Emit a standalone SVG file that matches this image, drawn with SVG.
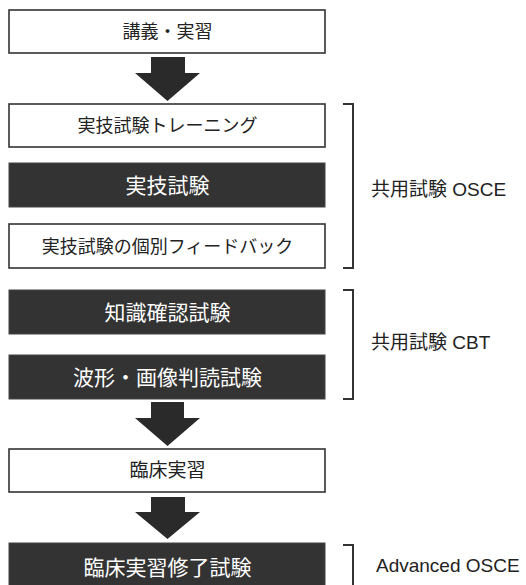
<svg xmlns="http://www.w3.org/2000/svg" width="526" height="585" viewBox="0 0 526 585">
<defs>
<style>
.wbox{fill:#ffffff;stroke:#333333;stroke-width:1.6}
.dbox{fill:#333333;stroke:#444444;stroke-width:1}
.t{font-family:"Liberation Sans","Noto Sans CJK JP",sans-serif;text-anchor:middle}
.tw{fill:#222222;font-size:18px}
.td{fill:#ffffff;font-size:21px}
.lab{font-family:"Liberation Sans","Noto Sans CJK JP",sans-serif;font-size:19px;fill:#222222}
.br{fill:none;stroke:#333333;stroke-width:2}
.arr{fill:#2a2a2a}
</style>
</defs>
<rect width="526" height="585" fill="#ffffff"/>
<g id="connectors">
<polygon class="arr" points="151,57 185,57 185,73 200,73 167.5,101 135,73 151,73"/>
<polygon class="arr" points="151,402 184,402 184,418 200,418 167.5,446 135,418 151,418"/>
<polygon class="arr" points="151,497 185,497 185,512 200,512 167.5,539 135,512 151,512"/>
</g>
<g id="n1"><rect class="wbox" x="9" y="10" width="316" height="43"/><text class="t tw" x="167.5" y="38">講義・実習</text></g>
<g id="n2"><rect class="wbox" x="9" y="104" width="316" height="43"/><text class="t tw" x="167.5" y="132">実技試験トレーニング</text></g>
<g id="n3"><rect class="dbox" x="9" y="163" width="316" height="44"/><text class="t td" x="167.5" y="193">実技試験</text></g>
<g id="n4"><rect class="wbox" x="9" y="224" width="316" height="44"/><text class="t tw" x="167.5" y="253">実技試験の個別フィードバック</text></g>
<g id="n5"><rect class="dbox" x="9" y="290" width="316" height="44"/><text class="t td" x="167.5" y="320">知識確認試験</text></g>
<g id="n6"><rect class="dbox" x="9" y="355" width="316" height="44"/><text class="t td" x="167.5" y="385">波形・画像判読試験</text></g>
<g id="n7"><rect class="wbox" x="9" y="449" width="316" height="43"/><text class="t tw" x="167.5" y="477" style="font-size:19px">臨床実習</text></g>
<g id="n8"><rect class="dbox" x="9" y="543" width="316" height="48"/><text class="t td" x="167.5" y="575">臨床実習修了試験</text></g>
<g id="g-osce"><path class="br" d="M343,104 H353 V268 H343"/><text class="lab" x="371" y="196">共用試験 OSCE</text></g>
<g id="g-cbt"><path class="br" d="M343,290 H353 V399 H343"/><text class="lab" x="371" y="349">共用試験 CBT</text></g>
<g id="g-adv"><path class="br" d="M343,545 H353 V592"/><text class="lab" x="376" y="572">Advanced OSCE</text></g>
</svg>
